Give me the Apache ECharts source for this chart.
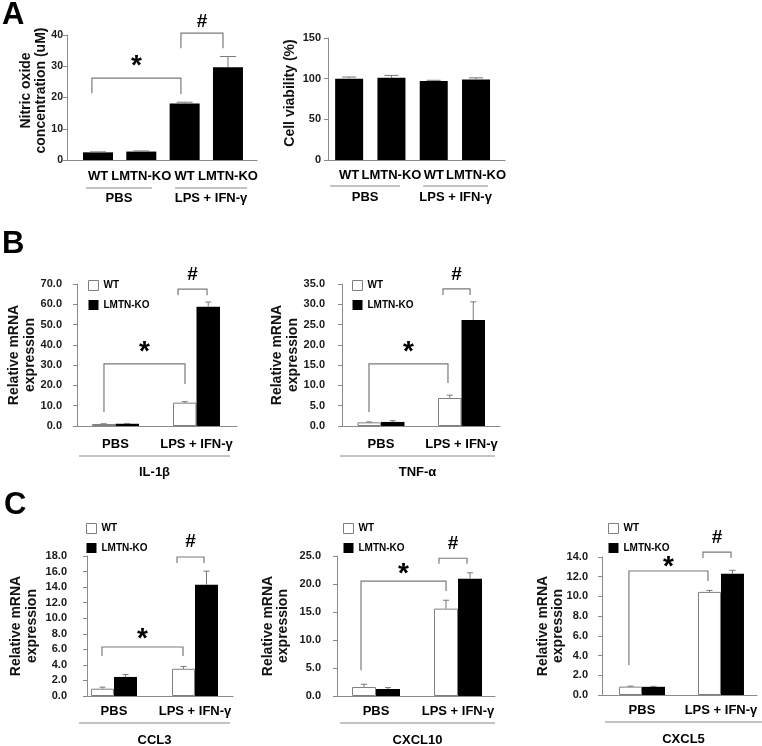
<!DOCTYPE html>
<html><head><meta charset="utf-8">
<script src="https://cdn.jsdelivr.net/npm/echarts@6/dist/echarts.min.js"></script>
<style>html,body{margin:0;padding:0;background:#fff}#c{width:762px;height:746px}</style>
</head><body><div id="c"></div>
<script>
// ---------------- DATA ----------------
const seriesNames = ['WT', 'LMTN-KO'];
const aBarLabels = ['WT', 'LMTN-KO', 'WT', 'LMTN-KO'];
const treatments = ['PBS', 'LPS + IFN-γ'];

// Panel A
const noTicks = [0, 10, 20, 30, 40];
const noValues = [2.45, 2.7, 18.1, 29.7];
const noErrors = [0.15, 0.2, 0.4, 3.4];
const viaTicks = [0, 50, 100, 150];
const viaValues = [100, 101, 97, 99];
const viaErrors = [2, 3, 1, 2];

// Panel B
const il1bTicks = [0, 10, 20, 30, 40, 50, 60, 70];
const il1bWT = [1.0, 11.5];   const il1bWTErr = [0.1, 0.5];
const il1bKO = [1.1, 58.8];   const il1bKOErr = [0.15, 2.3];
const tnfTicks = [0, 5, 10, 15, 20, 25, 30, 35];
const tnfWT = [0.9, 6.9];     const tnfWTErr = [0.1, 0.7];
const tnfKO = [1.0, 26.1];    const tnfKOErr = [0.3, 4.5];

// Panel C
const ccl3Ticks = [0, 2, 4, 6, 8, 10, 12, 14, 16, 18];
const ccl3WT = [0.94, 3.5];   const ccl3WTErr = [0.2, 0.3];
const ccl3KO = [2.45, 14.3];  const ccl3KOErr = [0.3, 1.75];
const cxcl10Ticks = [0, 5, 10, 15, 20, 25];
const cxcl10WT = [1.6, 15.6]; const cxcl10WTErr = [0.5, 1.5];
const cxcl10KO = [1.25, 20.95]; const cxcl10KOErr = [0.25, 1.05];
const cxcl5Ticks = [0, 2, 4, 6, 8, 10, 12, 14];
const cxcl5WT = [0.85, 10.46]; const cxcl5WTErr = [0.05, 0.15];
const cxcl5KO = [0.83, 12.3];  const cxcl5KOErr = [0.05, 0.35];

const geneNames = ['IL-1β', 'TNF-α', 'CCL3', 'CXCL10', 'CXCL5'];

// ---------------- LAYOUT / STYLE ----------------
const FONT = '"Liberation Sans", Arial, Helvetica, sans-serif';
const AX = '#8a8a8a';
const ERR = '#777';
const BR = '#7a7a7a';
const mrna = 'Relative mRNA\nexpression';

const panels = [
  { grid:{left:67, top:35, width:190, height:125}, xr:[-0.715, 3.67], ticks:noTicks, dec:0,
    bars:[{name:'', values:noValues, errors:noErrors, shift:0, color:'#000'}], barW:30, capW:16,
    xLabels:aBarLabels, xLabelMargin:10, labelMargin:4, labelSize:10.5, name:'Nitric oxide\nconcentration (uM)', nameGap:18, nameLH:15,
    namePad:[0,0,0,14], starDy:12, hashDy:11,
    brackets:[{x1:-0.14, x2:1.915, top:26.2, l1:21.4, l2:21.1, sym:'*'},
              {x1:1.915, x2:2.885, top:40.6, l1:35.8, l2:35.8, sym:'#'}],
    decor:{lineDy:28, textDy:38, items:[{x1:-0.277, x2:1.246, label:treatments[0]}, {x1:1.777, x2:3.439, label:treatments[1]}]} },
  { grid:{left:328, top:38, width:177, height:122}, xr:[-0.5, 3.685], ticks:viaTicks, dec:0,
    bars:[{name:'', values:viaValues, errors:viaErrors, shift:0, color:'#000'}], barW:28, capW:14,
    xLabels:aBarLabels, xLabelMargin:9, labelMargin:7, labelSize:11, name:'Cell viability (%)', nameGap:30, nameLH:16,
    namePad:[0,0,0,12], starDy:12, hashDy:11, brackets:[],
    decor:{lineDy:26, textDy:37, items:[{x1:-0.449, x2:1.206, label:treatments[0]}, {x1:1.749, x2:3.286, label:treatments[1]}]} },
  { grid:{left:77, top:284, width:160, height:142}, xr:[-0.475, 1.5], ticks:il1bTicks, dec:1,
    bars:[{name:seriesNames[0], values:il1bWT, errors:il1bWTErr, shift:-0.5},
          {name:seriesNames[1], values:il1bKO, errors:il1bKOErr, shift:0.5}], barW:23.5, capW:6,
    xLabels:treatments, xLabelMargin:12, labelMargin:15, labelSize:11, name:mrna, nameGap:39, nameLH:16, legend:{left:88, top:280},
    namePad:[0,0,0,0], starDy:12, hashDy:14,
    brackets:[{x1:-0.142, x2:0.858, top:30.6, l1:6.9, l2:20.7, sym:'*'},
              {x1:0.772, x2:1.13, top:67.5, l1:64.5, l2:64.5, sym:'#'}],
    decor:{lineDy:30, textDy:46, items:[{x1:-0.45, x2:1.414, label:geneNames[0]}]} },
  { grid:{left:342, top:284, width:158, height:142}, xr:[-0.484, 1.478], ticks:tnfTicks, dec:1,
    bars:[{name:seriesNames[0], values:tnfWT, errors:tnfWTErr, shift:-0.5},
          {name:seriesNames[1], values:tnfKO, errors:tnfKOErr, shift:0.5}], barW:23.5, capW:6,
    xLabels:treatments, xLabelMargin:12, labelMargin:17, labelSize:11, name:mrna, nameGap:41, nameLH:16, legend:{left:352, top:280},
    namePad:[0,0,0,0], starDy:12, hashDy:14,
    brackets:[{x1:-0.149, x2:0.832, top:15.3, l1:3.45, l2:10.6, sym:'*'},
              {x1:0.77, x2:1.106, top:33.8, l1:32.3, l2:32.3, sym:'#'}],
    decor:{lineDy:30, textDy:46, items:[{x1:-0.509, x2:1.416, label:geneNames[1]}]} },
  { grid:{left:87, top:556, width:146, height:140}, xr:[-0.333, 1.469], ticks:ccl3Ticks, dec:1,
    bars:[{name:seriesNames[0], values:ccl3WT, errors:ccl3WTErr, shift:-0.5},
          {name:seriesNames[1], values:ccl3KO, errors:ccl3KOErr, shift:0.5}], barW:23, capW:6,
    xLabels:treatments, xLabelMargin:9, labelMargin:20, labelSize:11, name:mrna, nameGap:47, nameLH:16, legend:{left:86, top:523},
    namePad:[0,0,0,0], starDy:8, hashDy:15,
    brackets:[{x1:-0.148, x2:0.852, top:6.3, l1:5.14, l2:5.14, sym:'*'},
              {x1:0.778, x2:1.111, top:17.87, l1:17.1, l2:17.1, sym:'#'}],
    decor:{lineDy:27, textDy:44, items:[{x1:-0.432, x2:1.432, label:geneNames[2]}]} },
  { grid:{left:337, top:556, width:158, height:140}, xr:[-0.476, 1.451], ticks:cxcl10Ticks, dec:1,
    bars:[{name:seriesNames[0], values:cxcl10WT, errors:cxcl10WTErr, shift:-0.5},
          {name:seriesNames[1], values:cxcl10KO, errors:cxcl10KOErr, shift:0.5}], barW:24, capW:6,
    xLabels:treatments, xLabelMargin:9, labelMargin:16, labelSize:11, name:mrna, nameGap:46.5, nameLH:15, legend:{left:343, top:523},
    namePad:[0,0,0,0], starDy:7, hashDy:14,
    brackets:[{x1:-0.183, x2:0.854, top:20.5, l1:4.6, l2:18.75, sym:'*'},
              {x1:0.768, x2:1.11, top:24.6, l1:23.6, l2:23.6, sym:'#'}],
    decor:{lineDy:27, textDy:44, items:[{x1:-0.439, x2:1.451, label:geneNames[3]}]} },
  { grid:{left:602, top:557, width:155, height:138}, xr:[-0.506, 1.456], ticks:cxcl5Ticks, dec:1,
    bars:[{name:seriesNames[0], values:cxcl5WT, errors:cxcl5WTErr, shift:-0.5},
          {name:seriesNames[1], values:cxcl5KO, errors:cxcl5KOErr, shift:0.5}], barW:23, capW:6,
    xLabels:treatments, xLabelMargin:9, labelMargin:14, labelSize:11, name:mrna, nameGap:36.5, nameLH:15, legend:{left:608, top:523},
    namePad:[0,0,0,0], starDy:4, hashDy:14,
    brackets:[{x1:-0.165, x2:0.835, top:12.58, l1:3.04, l2:11.57, sym:'*'},
              {x1:0.772, x2:1.127, top:14.5, l1:13.9, l2:13.9, sym:'#'}],
    decor:{lineDy:27, textDy:44, items:[{x1:-0.468, x2:1.519, label:geneNames[4]}]} }
];

const WT_STYLE = {color:'#fff', borderColor:'#7f7f7f', borderWidth:1};
const KO_STYLE = {color:'#000'};

const grids = [], xAxes = [], yAxes = [], series = [], legends = [];

panels.forEach((p, i) => {
  grids.push(Object.assign({containLabel:false}, p.grid));
  const labels = p.xLabels;
  xAxes.push({
    gridIndex:i, type:'value', min:p.xr[0], max:p.xr[1],
    axisLine:{show:true, onZero:false, lineStyle:{color:AX, width:1}},
    axisTick:{show:false}, splitLine:{show:false},
    axisLabel:{customValues:labels.map((_, k) => k), formatter:v => labels[Math.round(v)],
      margin:p.xLabelMargin, fontSize:13, fontWeight:'bold', color:'#000', fontFamily:FONT}
  });
  const t = p.ticks;
  yAxes.push({
    gridIndex:i, type:'value', min:t[0], max:t[t.length - 1], interval:t[1] - t[0],
    axisLine:{show:true, onZero:false, lineStyle:{color:AX, width:1}},
    axisTick:{show:true, length:4, lineStyle:{color:AX}},
    splitLine:{show:false},
    axisLabel:{margin:p.labelMargin, fontSize:p.labelSize, fontWeight:'bold', color:'#1a1a1a', fontFamily:FONT,
      formatter:v => Number(v).toFixed(p.dec)},
    name:p.name, nameLocation:'middle', nameRotate:90, nameGap:p.nameGap, nameMoveOverlap:false,
    nameTextStyle:{fontSize:14, fontWeight:'bold', color:'#111', fontFamily:FONT, lineHeight:p.nameLH, align:'center', padding:p.namePad}
  });

  p.bars.forEach((b, k) => {
    const style = p.bars.length === 1 ? {color:b.color} : (k === 0 ? WT_STYLE : KO_STYLE);
    series.push({
      type:'bar', name:b.name || undefined, xAxisIndex:i, yAxisIndex:i,
      data:b.values.map((v, j) => [j, v]), barWidth:p.barW, barGap:'0%',
      itemStyle:style, silent:true, z:2, animation:false
    });
  });
  // error bars
  p.bars.forEach((b) => {
    series.push({
      type:'custom', xAxisIndex:i, yAxisIndex:i, silent:true, z:3, animation:false,
      data:b.values.map((v, j) => [j, v, b.errors[j]]),
      encode:{x:0, y:1},
      renderItem:(params, api) => {
        const x = api.value(0), v = api.value(1), e = api.value(2);
        const p0 = api.coord([x, v]), p1 = api.coord([x, v + e]);
        const cx = p0[0] + b.shift * p.barW;
        return {type:'group', children:[
          {type:'line', shape:{x1:cx, y1:p0[1], x2:cx, y2:p1[1]}, style:{stroke:ERR, lineWidth:1}},
          {type:'line', shape:{x1:cx - p.capW / 2, y1:p1[1], x2:cx + p.capW / 2, y2:p1[1]}, style:{stroke:ERR, lineWidth:1}}
        ]};
      }
    });
  });
  // significance brackets
  if (p.brackets.length) {
    series.push({
      type:'custom', xAxisIndex:i, yAxisIndex:i, silent:true, z:4, animation:false,
      data:p.brackets.map(b => [b.x1, b.x2, b.top, b.l1, b.l2]),
      encode:{x:[0, 1], y:[2, 3, 4]},
      renderItem:(params, api) => {
        const b = p.brackets[params.dataIndex];
        const L = api.coord([api.value(0), api.value(2)]);
        const R = api.coord([api.value(1), api.value(2)]);
        const yl = api.coord([api.value(0), api.value(3)])[1];
        const yr = api.coord([api.value(1), api.value(4)])[1];
        const isStar = b.sym === '*';
        return {type:'group', children:[
          {type:'polyline', shape:{points:[[L[0], yl], [L[0], L[1]], [R[0], R[1]], [R[0], yr]]},
            style:{stroke:BR, lineWidth:1.2, fill:null}},
          {type:'text', style:{text:b.sym, x:(L[0] + R[0]) / 2, y:L[1] - (isStar ? p.starDy : p.hashDy),
            align:'center', verticalAlign:'middle', fill:'#000',
            font:'bold ' + (isStar ? 28 : 19) + 'px ' + FONT}}
        ]};
      }
    });
  }
  // group underline + labels
  series.push({
    type:'custom', xAxisIndex:i, yAxisIndex:i, silent:true, z:4, animation:false,
    data:p.decor.items.map(d => [d.x1, d.x2]),
    encode:{x:[0, 1]},
    renderItem:(params, api) => {
      const d = p.decor.items[params.dataIndex];
      const a = api.coord([api.value(0), 0]);
      const c = api.coord([api.value(1), 0]);
      const y0 = a[1];
      return {type:'group', children:[
        {type:'line', shape:{x1:a[0], y1:y0 + p.decor.lineDy, x2:c[0], y2:y0 + p.decor.lineDy}, style:{stroke:'#888', lineWidth:1}},
        {type:'text', style:{text:d.label, x:(a[0] + c[0]) / 2, y:y0 + p.decor.textDy, align:'center', verticalAlign:'middle',
          fill:'#000', font:'bold 13px ' + FONT}}
      ]};
    }
  });
  if (p.legend) {
    legends.push({
      left:p.legend.left, top:p.legend.top, orient:'vertical', padding:0, itemGap:9,
      itemWidth:10, itemHeight:10, icon:'rect', selectedMode:false,
      textStyle:{fontSize:10, fontWeight:'bold', color:'#000', fontFamily:FONT},
      data:[{name:seriesNames[0], itemStyle:WT_STYLE}, {name:seriesNames[1], itemStyle:KO_STYLE}]
    });
  }
});

const chart = echarts.init(document.getElementById('c'), null, {renderer:'canvas'});
chart.setOption({
  animation:false,
  backgroundColor:'#fff',
  title:[
    {text:'A', left:2, top:0, padding:0, textStyle:{fontSize:31, fontWeight:'bold', color:'#000', fontFamily:FONT}},
    {text:'B', left:2, top:229, padding:0, textStyle:{fontSize:31, fontWeight:'bold', color:'#000', fontFamily:FONT}},
    {text:'C', left:4, top:490, padding:0, textStyle:{fontSize:31, fontWeight:'bold', color:'#000', fontFamily:FONT}}
  ],
  legend:legends,
  grid:grids, xAxis:xAxes, yAxis:yAxes, series:series
});
</script></body></html>
